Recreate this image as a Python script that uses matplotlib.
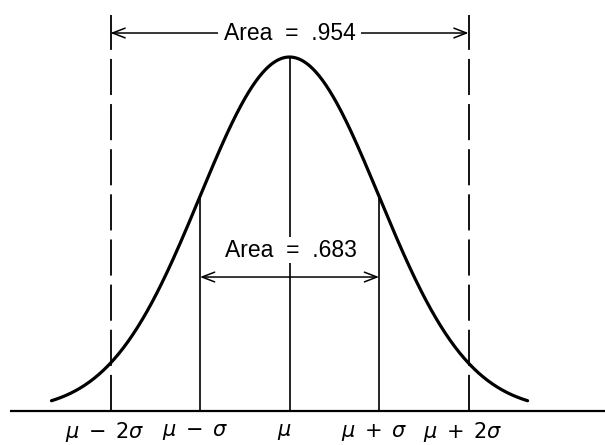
import numpy as np
from matplotlib import pyplot as plt

# positions in units of sigma from the mean
ticks = [-2, -1, 0, 1, 2]
tick_labels = [r"$\mu\;-\;2\sigma$", r"$\mu\;-\;\sigma$", r"$\mu$",
               r"$\mu\;+\;\sigma$", r"$\mu\;+\;2\sigma$"]
area_2sd = ".954"
area_1sd = ".683"
curve_span = 2.66

def pdf(z):
	return np.exp(-z**2 / 2) / np.sqrt(2 * np.pi)

fig = plt.figure(figsize=(6.05, 4.45), dpi=100)
ax = fig.add_axes([0, 0, 1, 1])
ax.set_xlim(-3.235, 3.525)
ax.set_ylim(-0.0383, 0.4632)
ax.axis("off")

plt.rcParams["font.family"] = ["Liberation Sans", "DejaVu Sans"]

# baseline
ax.plot([-3.12, 3.525], [0, 0], color="black", lw=1.6, solid_capstyle="butt")

# the curve
z = np.linspace(-curve_span, curve_span, 400)
ax.plot(z, pdf(z), color="black", lw=2.3, solid_capstyle="round")

# solid verticals at mu-sigma, mu, mu+sigma
for t in ticks[1:4]:
	ax.plot([t, t], [0, pdf(t)], color="black", lw=1.2)

# dashed verticals at +-2 sigma
top = 0.4463
for t in (ticks[0], ticks[4]):
	ax.plot([t, t], [0, top], color="black", lw=1.3, dashes=(20, 5))

# arrows + area labels
y_top = 0.426
y_low = 0.151
ax.annotate("", xy=(ticks[0], y_top), xytext=(ticks[4], y_top),
	arrowprops=dict(arrowstyle="<->, head_length=0.9, head_width=0.35", color="black", lw=1.1, shrinkA=0, shrinkB=0),
	zorder=2)
ax.text(0, y_top, "Area  =  " + area_2sd, ha="center", va="center", fontsize=16.5,
	bbox=dict(facecolor="white", edgecolor="none", pad=4), zorder=3)

ax.annotate("", xy=(ticks[1], y_low), xytext=(ticks[3], y_low),
	arrowprops=dict(arrowstyle="<->, head_length=0.9, head_width=0.35", color="black", lw=1.1, shrinkA=0, shrinkB=0))
ax.text(0.02, 0.1814, "Area  =  " + area_1sd, ha="center", va="center", fontsize=16.5,
	bbox=dict(facecolor="white", edgecolor="none", pad=1), zorder=3)

# tick labels below the axis
for t, lab in zip(ticks, tick_labels):
	ax.text(t - 0.06, -0.024, lab, ha="center", va="center", fontsize=15)

plt.savefig("out.png", dpi=100)
